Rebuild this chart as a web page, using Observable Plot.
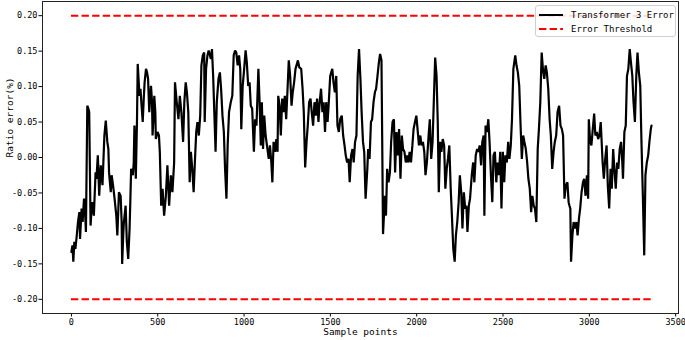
<!DOCTYPE html>
<html>
<head>
<meta charset="utf-8">
<script src="https://cdn.jsdelivr.net/npm/d3@7"></script>
<script src="https://cdn.jsdelivr.net/npm/@observablehq/plot@0.6"></script>
<style>
  html, body { margin: 0; padding: 0; background: #fff; }
  #wrap { position: relative; width: 685px; height: 340px; font-family: "DejaVu Sans Mono", monospace; }
  #legend { position: absolute; left: 535px; top: 5px; width: 141px; height: 32px; box-sizing: border-box;
            border: 1px solid #d0d0d0; border-radius: 3px; background: rgba(255,255,255,0.85); font-size: 9px; color: #000; }
  #legend .row { position: absolute; left: 0; height: 12px; display: flex; align-items: center; white-space: nowrap; }
  #legend svg { margin-left: 3px; margin-right: 8px; }
</style>
</head>
<body>
<div id="wrap">
  <div id="chart"></div>
  <div id="legend">
    <div class="row" style="top:3px"><svg width="24" height="6"><line x1="0" x2="24" y1="3" y2="3" stroke="black" stroke-width="2"/></svg><span id="lg0"></span></div>
    <div class="row" style="top:17px"><svg width="24" height="6"><line x1="0" x2="24" y1="3" y2="3" stroke="red" stroke-width="2" stroke-dasharray="7.4,3.2"/></svg><span id="lg1"></span></div>
  </div>
</div>
<script>
const seriesNames = ["Transformer 3 Error", "Error Threshold"];
const xLabel = "Sample points";
const yLabel = "Ratio error(%)";
const xTicks = [0, 500, 1000, 1500, 2000, 2500, 3000, 3500];
const yTicks = [-0.20, -0.15, -0.10, -0.05, 0.00, 0.05, 0.10, 0.15, 0.20];
const thresholdLevels = [0.2, -0.2];
const thresholdStart = [0];
const thresholdEnd = [3360];

const sampleIdx = [
0,6,11,17,23,31,38,46,50,59,65,73,78,84,92,98,103,111,117,122,130,140,145,153,161,170,180,185,191,199,
208,214,218,228,233,241,250,260,266,272,275,285,291,294,300,304,314,321,329,337,342,346,356,361,365,373,380,384,390,394,
400,405,413,419,424,432,438,444,451,457,461,467,470,476,480,486,489,499,507,512,520,528,537,547,556,
566,576,585,595,600,610,620,628,637,647,654,662,669,677,685,692,700,708,715,723,730,738,746,753,761,769,772,780,788,795,
808,814,821,829,835,842,852,860,867,875,883,890,898,905,913,923,932,940,948,955,963,971,978,984,992,999,1009,1016,1024,1032,
1039,1047,1057,1064,1072,1083,1090,1097,1103,1110,1117,1125,
1143,1150,1158,1164,1171,1179,1187,1194,1198,1206,1213,1221,1229,1236,1244,1252,1259,1267,1275,1282,1290,1298,1312,1320,1331,1339,1346,1354,1362,1369,
1377,1385,1392,1400,1408,1415,1423,1431,1438,1446,1454,1461,1469,1476,1484,1492,1499,1511,1518,1526,1534,1541,1549,1557,1566,1574,1582,1589,1597,1605,
1612,1620,1628,1635,1643,1651,1658,1666,1674,1681,1689,1696,1704,
1714,1719,1727,1735,1742,1750,1758,1765,1773,1781,1788,1796,1800,1805,1816,1822,1829,1837,1845,1852,1860,1868,1875,1883,1891,1898,1906,1914,1921,1929,
1937,1944,1952,1959,1967,1975,1982,1990,1998,2005,2013,2021,2028,2036,2044,2051,2059,2069,2076,2084,2092,2099,2107,2115,2122,2128,2136,2143,2151,2159,
2166,2174,2181,2189,2197,2204,2212,2220,2227,2235,2243,2250,2258,2265,2273,2281,2288,
2294,2302,2309,2319,2327,2334,2342,2350,2357,2365,2373,2380,2388,2392,2399,2407,2415,2422,2430,2438,2445,2453,2461,2468,2476,2484,2491,2499,2507,2514,
2522,2530,2537,2545,2552,2560,2571,2578,2586,2594,2601,2609,2617,2624,2632,2640,2647,2655,2663,2670,2678,2685,2693,2701,2708,2716,2724,2731,2739,2747,
2754,2762,2770,2777,2785,2793,2800,2808,2816,2825,2833,2841,2848,2856,2864,2873,
2880,2885,2890,2894,2902,2909,2917,2925,2932,2940,2947,2955,2963,2970,2978,2986,2993,2997,3005,3012,3020,3028,3035,3043,3051,3058,3066,3077,3084,3092,
3100,3107,3115,3123,3130,3138,3145,3153,3161,3168,3176,3184,3191,3195,3203,3211,3218,3226,3234,3241,3249,3256,3264,3272,3279,3287,3295,3302,3310,3318,
3325,3333,3341,3348,3356,3360
];

const ratioError = [
-0.133,-0.124,-0.147,-0.119,-0.129,-0.110,-0.091,-0.077,-0.115,-0.072,-0.091,-0.058,-0.072,-0.105,0.073,0.069,0.064,-0.096,-0.072,-0.063,-0.082,-0.021,-0.030,0.003,-0.054,-0.011,-0.039,-0.007,0.031,0.052,
0.022,0.012,-0.021,-0.049,-0.025,-0.039,-0.058,-0.082,-0.110,-0.072,-0.049,-0.054,-0.091,-0.150,-0.110,-0.091,-0.068,-0.119,-0.143,-0.100,-0.054,-0.016,-0.025,-0.007,0.045,-0.030,0.054,0.132,0.106,0.087,
0.097,0.078,0.050,0.083,0.106,0.125,0.120,0.111,0.064,0.087,0.101,0.078,0.031,0.059,0.087,0.064,0.026,0.036,0.031,0.008,-0.068,-0.044,-0.082,-0.054,-0.011,
-0.068,-0.025,-0.049,-0.007,0.106,0.078,0.054,0.087,0.064,0.022,0.078,0.106,0.092,0.064,-0.035,0.008,-0.016,-0.049,-0.007,0.036,0.050,0.031,0.059,0.130,0.144,0.148,0.050,0.125,0.144,0.151,
0.139,0.153,0.115,0.054,0.008,0.078,0.111,0.120,0.097,0.059,0.036,-0.016,-0.058,0.017,0.064,0.078,0.087,0.144,0.151,0.148,0.130,0.144,0.125,0.040,0.101,0.120,0.151,0.134,0.101,0.106,
0.073,0.069,0.008,0.054,0.045,0.125,0.078,0.017,0.078,0.012,0.059,0.031,
-0.002,0.017,-0.007,-0.035,0.022,0.008,0.026,0.008,0.087,0.073,0.031,0.083,0.064,0.087,0.054,0.097,0.137,0.115,0.073,0.092,0.106,0.125,0.137,0.127,0.125,0.097,0.064,-0.014,0.022,0.045,
0.078,0.083,0.064,0.045,0.078,0.059,0.083,0.050,0.078,0.097,0.064,0.078,0.036,0.078,0.050,0.083,0.115,0.125,0.106,0.092,0.115,0.045,0.036,0.054,0.059,0.031,0.017,0.003,-0.007,-0.002,
-0.035,0.003,0.012,-0.007,0.022,0.031,0.115,0.153,0.111,0.064,0.022,0.008,-0.058,
-0.016,0.012,-0.002,0.050,0.054,0.078,0.092,0.097,0.115,0.134,0.146,0.137,0.031,-0.108,-0.054,-0.082,-0.016,-0.035,-0.021,0.022,0.050,0.054,-0.021,0.036,0.003,0.040,-0.030,0.031,0.012,0.008,
-0.007,0.003,-0.007,0.008,-0.007,0.017,0.040,0.050,0.059,0.040,0.017,0.031,0.017,0.022,0.008,-0.025,-0.007,0.031,0.054,-0.002,0.022,0.078,0.141,0.115,0.050,-0.049,0.022,0.008,0.026,0.017,
-0.044,-0.016,-0.002,0.017,-0.044,-0.082,-0.129,-0.147,-0.110,-0.091,-0.063,-0.025,-0.049,-0.100,-0.049,-0.072,-0.068,
-0.105,-0.068,-0.058,-0.025,-0.007,-0.035,0.003,0.012,0.008,0.017,-0.011,0.022,0.031,-0.082,0.045,0.036,0.054,0.022,-0.025,-0.063,0.003,0.008,-0.035,-0.007,-0.025,0.008,-0.072,0.008,-0.035,0.003,
-0.007,0.022,-0.002,0.017,0.054,0.125,0.144,0.130,0.120,0.101,0.050,-0.002,0.031,0.022,0.012,-0.007,-0.030,-0.044,-0.077,-0.054,-0.068,-0.072,-0.091,0.012,0.040,0.078,0.148,0.125,0.111,0.130,
0.120,0.097,0.054,0.031,-0.016,0.008,0.022,0.031,0.064,0.073,0.045,0.040,0.031,-0.058,-0.039,-0.035,
-0.063,-0.068,-0.072,-0.147,-0.110,-0.091,-0.100,-0.091,-0.110,-0.086,-0.072,-0.049,-0.035,-0.030,-0.054,-0.025,-0.058,0.054,0.022,0.017,0.040,0.062,0.031,0.036,0.026,0.031,0.050,-0.007,-0.030,-0.002,
0.017,-0.039,-0.072,-0.016,-0.044,0.012,-0.016,-0.044,-0.007,-0.016,0.012,0.022,-0.007,-0.030,0.036,0.045,0.115,0.125,0.153,0.134,0.115,0.078,0.050,0.115,0.148,0.120,0.101,0.022,-0.054,-0.138,
-0.025,-0.007,0.003,0.022,0.040,0.045
];

const n = Math.min(sampleIdx.length, ratioError.length);
const errData = d3.range(n).map(i => ({x: sampleIdx[i], y: ratioError[i]}));
const thrData = thresholdLevels.map(v => ({y: v, x1: thresholdStart[0], x2: thresholdEnd[0]}));

document.getElementById("lg0").textContent = seriesNames[0];
document.getElementById("lg1").textContent = seriesNames[1];

const chart = Plot.plot({
  width: 685,
  height: 340,
  marginLeft: 42,
  marginRight: 7,
  marginTop: 1,
  marginBottom: 27,
  style: {fontFamily: "'DejaVu Sans Mono', monospace", fontSize: "8.5px", background: "white", color: "black"},
  x: {domain: [-167.5, 3516.5]},
  y: {domain: [-0.22, 0.22]},
  marks: [
    Plot.axisX({ticks: xTicks, tickSize: 3.5, tickPadding: 1.5, tickFormat: d => String(d), label: null}),
    Plot.axisY({ticks: yTicks, tickSize: 3.5, tickPadding: 1.5, tickFormat: d => d.toFixed(2), label: null}),
    Plot.ruleY(thrData, {y: "y", x1: "x1", x2: "x2", stroke: "red", strokeWidth: 2, strokeDasharray: "7.4,3.2"}),
    Plot.line(errData, {x: "x", y: "y", stroke: "black", strokeWidth: 2.2, strokeLinejoin: "miter"}),
    Plot.frame({stroke: "#222", strokeWidth: 1}),
    Plot.text([xLabel], {text: d => d, frameAnchor: "bottom", dy: 21.5, fontSize: 9.5}),
    Plot.text([yLabel], {text: d => d, frameAnchor: "left", dx: -33, rotate: -90, fontSize: 9.5})
  ]
});
document.getElementById("chart").appendChild(chart);
</script>
</body>
</html>
